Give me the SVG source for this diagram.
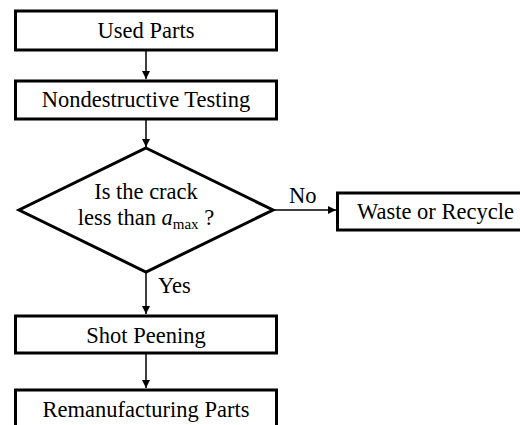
<svg xmlns="http://www.w3.org/2000/svg" width="520" height="425" viewBox="0 0 520 425">
<style>
.box{fill:#fff;stroke:#000;stroke-width:3}
.t{font-family:"Liberation Serif","Times New Roman",serif;font-size:22.5px;fill:#000;text-anchor:middle}
.lbl{font-family:"Liberation Serif","Times New Roman",serif;font-size:22.5px;fill:#000}
.c{stroke:#000;stroke-width:1.5;fill:none;marker-end:url(#ah)}
</style>
<defs>
<marker id="ah" markerWidth="8" markerHeight="8" refX="8" refY="4" orient="auto" markerUnits="userSpaceOnUse">
<path d="M0,0 L8,4 L0,8 Z" fill="#000"/>
</marker>
</defs>
<rect width="520" height="425" fill="#fff"/>
<g id="connectors">
<line class="c" x1="146" y1="51" x2="146" y2="79"/>
<line class="c" x1="146" y1="120" x2="146" y2="147"/>
<line class="c" x1="273" y1="210" x2="336" y2="210"/>
<line class="c" x1="146" y1="272" x2="146" y2="314"/>
<line class="c" x1="146" y1="354" x2="146" y2="388"/>
<text class="lbl" x="289" y="203">No</text>
<text class="lbl" x="158" y="293">Yes</text>
</g>
<g id="used-parts">
<rect class="box" x="15.5" y="11" width="261" height="39"/>
<text class="t" x="146" y="38">Used Parts</text>
</g>
<g id="ndt">
<rect class="box" x="15.5" y="81" width="261" height="38"/>
<text class="t" x="146" y="107">Nondestructive Testing</text>
</g>
<g id="decision">
<polygon class="box" points="146,148 273,210 146,272 19,210"/>
<text class="t" x="146" y="199">Is the crack</text>
<text class="t" x="146" y="225">less than <tspan font-style="italic">a</tspan><tspan font-size="15" dy="4">max</tspan><tspan dy="-4"> ?</tspan></text>
</g>
<g id="waste">
<rect class="box" x="337.5" y="193" width="200" height="37"/>
<text class="lbl" x="357" y="219">Waste or Recycle</text>
</g>
<g id="shot-peening">
<rect class="box" x="15.5" y="316" width="261" height="37"/>
<text class="t" x="146" y="343">Shot Peening</text>
</g>
<g id="reman">
<rect class="box" x="15.5" y="390" width="261" height="50"/>
<text class="t" x="146" y="417">Remanufacturing Parts</text>
</g>
</svg>
